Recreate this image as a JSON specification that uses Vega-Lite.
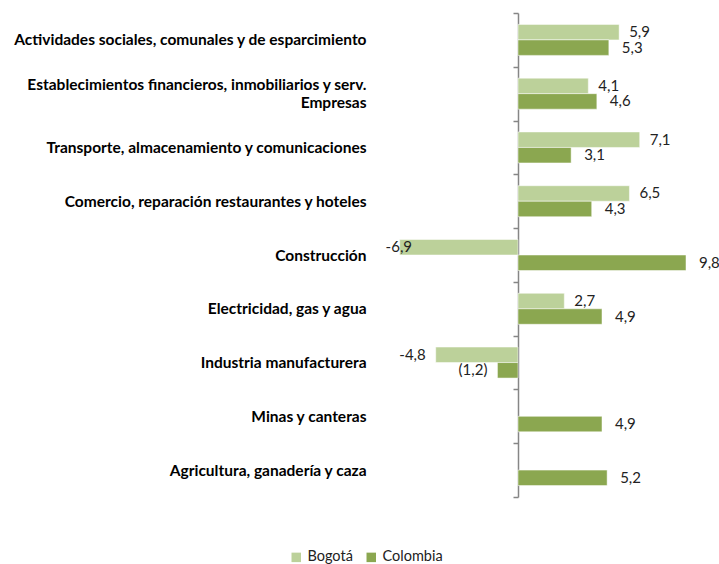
{
  "$schema": "https://vega.github.io/schema/vega-lite/v6.json",
  "width": 300,
  "height": 484,
  "autosize": {"type": "none"},
  "padding": {"left": 398, "top": 13, "right": 21, "bottom": 67},
  "background": "white",
  "config": {"view": {"stroke": null}, "font": "Lato"},
  "data": {
    "values": [
      {"sector": "Actividades sociales, comunales y de esparcimiento", "serie": "Bogotá", "valor": 5.9, "etiqueta": "5,9"},
      {"sector": "Actividades sociales, comunales y de esparcimiento", "serie": "Colombia", "valor": 5.3, "etiqueta": "5,3"},
      {"sector": "Establecimientos financieros, inmobiliarios y serv. Empresas", "serie": "Bogotá", "valor": 4.1, "etiqueta": "4,1"},
      {"sector": "Establecimientos financieros, inmobiliarios y serv. Empresas", "serie": "Colombia", "valor": 4.6, "etiqueta": "4,6"},
      {"sector": "Transporte, almacenamiento y comunicaciones", "serie": "Bogotá", "valor": 7.1, "etiqueta": "7,1"},
      {"sector": "Transporte, almacenamiento y comunicaciones", "serie": "Colombia", "valor": 3.1, "etiqueta": "3,1"},
      {"sector": "Comercio, reparación restaurantes y hoteles", "serie": "Bogotá", "valor": 6.5, "etiqueta": "6,5"},
      {"sector": "Comercio, reparación restaurantes y hoteles", "serie": "Colombia", "valor": 4.3, "etiqueta": "4,3"},
      {"sector": "Construcción", "serie": "Bogotá", "valor": -6.9, "etiqueta": "-6,9"},
      {"sector": "Construcción", "serie": "Colombia", "valor": 9.8, "etiqueta": "9,8"},
      {"sector": "Electricidad, gas y agua", "serie": "Bogotá", "valor": 2.7, "etiqueta": "2,7"},
      {"sector": "Electricidad, gas y agua", "serie": "Colombia", "valor": 4.9, "etiqueta": "4,9"},
      {"sector": "Industria manufacturera", "serie": "Bogotá", "valor": -4.8, "etiqueta": "-4,8"},
      {"sector": "Industria manufacturera", "serie": "Colombia", "valor": -1.2, "etiqueta": "(1,2)"},
      {"sector": "Minas y canteras", "serie": "Colombia", "valor": 4.9, "etiqueta": "4,9"},
      {"sector": "Agricultura, ganadería y caza", "serie": "Colombia", "valor": 5.2, "etiqueta": "5,2"}
    ]
  },
  "encoding": {
    "y": {
      "field": "sector",
      "type": "nominal",
      "sort": null,
      "scale": {"paddingInner": 0, "paddingOuter": 0},
      "axis": {
        "title": null,
        "offset": -120,
        "domainColor": "#868686",
        "domainWidth": 1.5,
        "tickColor": "#868686",
        "tickWidth": 1.5,
        "tickSize": 5,
        "tickBand": "extent",
        "labelPadding": 147,
        "labelFont": "Lato",
        "labelFontWeight": "bold",
        "labelFontSize": 15.5,
        "labelColor": "#000000",
        "labelLimit": 500,
        "labelLineHeight": 18,
        "labelOffset": {"condition": {"test": "datum.value == 'Establecimientos financieros, inmobiliarios y serv. Empresas'", "value": -9}, "value": 0},
        "labelExpr": "datum.value == 'Establecimientos financieros, inmobiliarios y serv. Empresas' ? ['Establecimientos financieros, inmobiliarios y serv.', 'Empresas'] : datum.value"
      }
    },
    "yOffset": {
      "field": "serie",
      "type": "nominal",
      "sort": ["Bogotá", "Colombia"],
      "scale": {"paddingInner": 0, "paddingOuter": 0.735}
    }
  },
  "layer": [
    {
      "mark": {"type": "bar", "stroke": "white", "strokeWidth": 0.5},
      "encoding": {
        "x": {"field": "valor", "type": "quantitative", "scale": {"domain": [-7, 10.5], "nice": false, "zero": false}, "axis": null},
        "color": {
          "field": "serie",
          "type": "nominal",
          "scale": {"domain": ["Bogotá", "Colombia"], "range": ["#BCD19A", "#8BA750"]},
          "legend": {
            "title": null,
            "orient": "none",
            "direction": "horizontal",
            "legendX": -109,
            "legendY": 537,
            "symbolType": "square",
            "symbolSize": 90,
            "symbolStrokeWidth": 0,
            "labelFont": "Lato",
            "labelFontSize": 14.5,
            "labelColor": "#222222",
            "columnPadding": 11,
            "labelOffset": 4
          }
        }
      }
    },
    {
      "transform": [{"filter": "datum.valor > 0 && datum.serie == 'Bogotá'"}],
      "mark": {"type": "text", "align": "left", "dx": 10, "fontSize": 15, "color": "#222222", "baseline": "middle"},
      "encoding": {"x": {"field": "valor", "type": "quantitative"}, "text": {"field": "etiqueta"}}
    },
    {
      "transform": [{"filter": "datum.valor > 0 && datum.serie == 'Colombia'"}],
      "mark": {"type": "text", "align": "left", "dx": 13, "fontSize": 15, "color": "#222222", "baseline": "middle"},
      "encoding": {"x": {"field": "valor", "type": "quantitative"}, "text": {"field": "etiqueta"}}
    },
    {
      "transform": [{"filter": "datum.valor < 0"}, {"calculate": "max(datum.valor, -5.6)", "as": "posx"}],
      "mark": {"type": "text", "align": "right", "dx": -10, "fontSize": 15, "color": "#222222", "baseline": "middle"},
      "encoding": {"x": {"field": "posx", "type": "quantitative"}, "text": {"field": "etiqueta"}}
    }
  ]
}
